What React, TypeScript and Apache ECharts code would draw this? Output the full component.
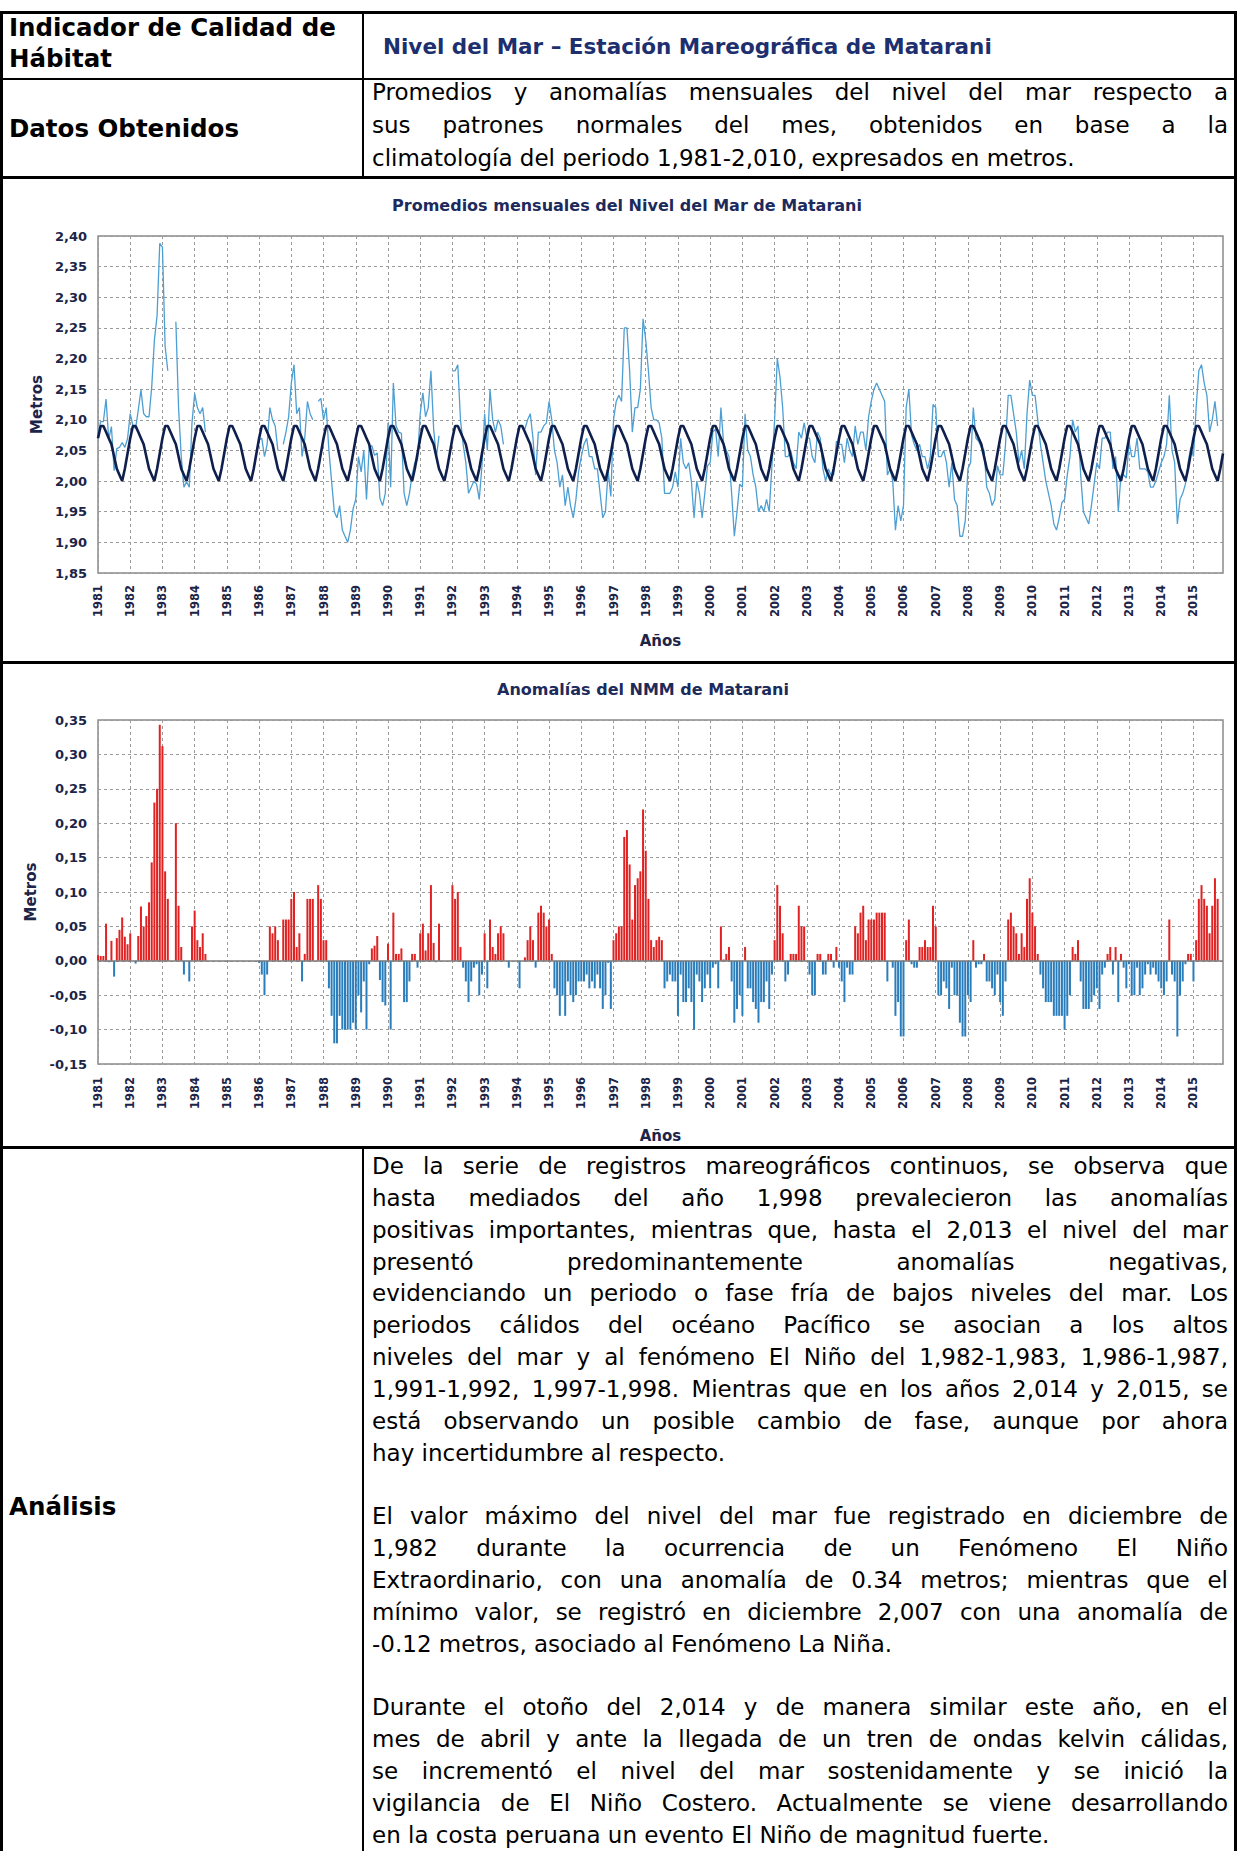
import React, { useEffect, useRef } from "react";
import * as echarts from "echarts";

// ---------------- DATA ----------------
const years = [
  1981, 1982, 1983, 1984, 1985, 1986, 1987, 1988, 1989, 1990, 1991, 1992,
  1993, 1994, 1995, 1996, 1997, 1998, 1999, 2000, 2001, 2002, 2003, 2004,
  2005, 2006, 2007, 2008, 2009, 2010, 2011, 2012, 2013, 2014, 2015,
];
const months = ["01", "02", "03", "04", "05", "06", "07", "08", "09", "10", "11", "12"];

// Patrón normal mensual (climatología 1981-2010), metros, Ene..Dic
const climatologia = [2.07, 2.09, 2.09, 2.08, 2.07, 2.06, 2.04, 2.02, 2.01, 2.0, 2.02, 2.045];

// Promedios mensuales del nivel del mar (m), Ene..Dic de cada año
const nivelMensual: (number | null)[] = [
  2.078, 2.097, 2.097, 2.134, 2.068, 2.089, 2.017, 2.053, 2.055, 2.063, 2.055, 2.069, // 1981
  2.11, 2.09, 2.086, 2.116, 2.149, 2.11, 2.105, 2.105, 2.153, 2.23, 2.27, 2.388, // 1982
  2.382, 2.22, 2.18, null, null, 2.26, 2.12, 2.04, 1.99, 1.999, 1.99, 2.095, // 1983
  2.143, 2.12, 2.11, 2.12, 2.08, null, null, null, null, null, null, null, // 1984
  null, null, null, null, null, null, null, null, null, null, null, null, // 1985
  2.067, 2.07, 2.04, 2.06, 2.12, 2.1, 2.09, 2.05, null, 2.06, 2.08, 2.105, // 1986
  2.16, 2.19, 2.11, 2.12, 2.04, 2.07, 2.13, 2.11, 2.1, null, 2.13, 2.135, // 1987
  2.1, 2.12, 2.05, 2.0, 1.95, 1.94, 1.96, 1.92, 1.91, 1.9, 1.92, 1.955, // 1988
  1.97, 2.04, 2.015, 2.05, 1.97, 2.055, 2.058, 2.042, 2.046, 1.972, 1.96, 1.98, // 1989
  2.095, 1.99, 2.16, 2.09, 2.08, 2.078, 1.98, 1.96, 1.98, 2.01, 2.03, 2.035, // 1990
  2.11, 2.144, 2.105, 2.12, 2.18, 2.086, 2.038, 2.074, null, null, null, null, // 1991
  2.18, 2.18, 2.19, 2.1, 2.06, 2.03, 1.98, 1.99, 2.0, 1.995, 1.97, 2.025, // 1992
  2.11, 2.05, 2.15, 2.1, 2.08, 2.1, 2.09, 2.06, null, 1.99, null, null, // 1993
  null, 2.05, null, 2.085, 2.1, 2.11, 2.07, 2.01, 2.08, 2.08, 2.09, 2.095, // 1994
  2.13, 2.1, 2.05, 2.03, 1.99, 2.01, 1.96, 1.99, 1.96, 1.94, 1.97, 2.015, // 1995
  2.04, 2.06, 2.07, 2.04, 2.04, 2.02, 2.02, 1.98, 1.94, 1.95, 2.017, 1.975, // 1996
  2.1, 2.13, 2.14, 2.13, 2.25, 2.25, 2.18, 2.08, 2.12, 2.12, 2.15, 2.265, // 1997
  2.23, 2.18, 2.12, 2.1, 2.1, 2.095, 2.07, 1.98, 1.98, 1.98, 1.99, 2.015, // 1998
  1.99, 2.07, 2.03, 2.02, 2.03, 2.0, 1.94, 2.0, 1.98, 1.94, 1.98, 2.025, // 1999
  2.03, 2.08, 2.085, 2.04, 2.12, 2.062, 2.05, 2.04, 1.98, 1.91, 1.95, 1.995, // 2000
  1.99, 2.11, 2.05, 2.04, 2.01, 1.99, 1.95, 1.96, 1.95, 1.97, 1.95, 2.025, // 2001
  2.1, 2.2, 2.17, 2.12, 2.04, 2.04, 2.05, 2.03, 2.02, 2.08, 2.07, 2.095, // 2002
  2.07, 2.07, 2.04, 2.03, 2.08, 2.07, 2.02, 2.0, 2.02, 2.01, 2.01, 2.065, // 2003
  2.06, 2.06, 2.03, 2.07, 2.05, 2.04, 2.09, 2.06, 2.08, 2.08, 2.05, 2.105, // 2004
  2.13, 2.15, 2.16, 2.15, 2.14, 2.13, 2.01, 2.02, 2.0, 1.92, 1.96, 1.935, // 2005
  1.96, 2.12, 2.15, 2.075, 2.06, 2.05, 2.06, 2.04, 2.04, 2.02, 2.04, 2.125, // 2006
  2.12, 2.04, 2.04, 2.05, 2.03, 1.99, 2.03, 1.97, 1.96, 1.91, 1.91, 1.935, // 2007
  2.02, 2.03, 2.12, 2.07, 2.065, 2.055, 2.05, 1.99, 1.98, 1.96, 1.97, 2.025, // 2008
  2.01, 2.01, 2.06, 2.14, 2.14, 2.11, 2.08, 2.03, 2.05, 2.02, 2.11, 2.165, // 2009
  2.14, 2.14, 2.1, 2.06, 2.03, 2.0, 1.98, 1.96, 1.93, 1.92, 1.94, 1.965, // 2010
  1.97, 2.01, 2.04, 2.1, 2.08, 2.09, 2.01, 1.95, 1.94, 1.93, 1.96, 1.995, // 2011
  2.03, 2.02, 2.07, 2.07, 2.08, 2.08, 2.02, 2.04, 1.95, 2.01, 2.01, 2.005, // 2012
  2.065, 2.04, 2.04, 2.07, 2.02, 2.02, 2.02, 2.015, 1.99, 1.99, 2.0, 2.015, // 2013
  2.03, 2.04, 2.06, 2.14, 2.05, 2.03, 1.93, 1.97, 1.98, 1.995, 2.03, 2.055, // 2014
  2.04, 2.12, 2.18, 2.19, 2.16, 2.14, 2.08, 2.1, 2.13, 2.09, null, null, // 2015
];

// Anomalías mensuales del NMM (m), Ene..Dic de cada año
const anomalias: (number | null)[] = [
  0.008, 0.007, 0.007, 0.054, -0.002, 0.029, -0.023, 0.033, 0.045, 0.063, 0.035, 0.024, // 1981
  0.04, 0.0, -0.004, 0.036, 0.079, 0.05, 0.065, 0.085, 0.143, 0.23, 0.25, 0.343, // 1982
  0.312, 0.13, 0.09, null, null, 0.2, 0.08, 0.02, -0.02, -0.001, -0.03, 0.05, // 1983
  0.073, 0.03, 0.02, 0.04, 0.01, null, null, null, null, null, null, null, // 1984
  null, null, null, null, null, null, null, null, null, null, null, null, // 1985
  -0.003, -0.02, -0.05, -0.02, 0.05, 0.04, 0.05, 0.03, null, 0.06, 0.06, 0.06, // 1986
  0.09, 0.1, 0.02, 0.04, -0.03, 0.01, 0.09, 0.09, 0.09, null, 0.11, 0.09, // 1987
  0.03, 0.03, -0.04, -0.08, -0.12, -0.12, -0.08, -0.1, -0.1, -0.1, -0.1, -0.09, // 1988
  -0.1, -0.05, -0.075, -0.03, -0.1, -0.005, 0.018, 0.022, 0.036, -0.028, -0.06, -0.065, // 1989
  0.025, -0.1, 0.07, 0.01, 0.01, 0.018, -0.06, -0.06, -0.03, 0.01, 0.01, -0.01, // 1990
  0.04, 0.054, 0.015, 0.04, 0.11, 0.026, -0.002, 0.054, null, null, null, null, // 1991
  0.11, 0.09, 0.1, 0.02, -0.01, -0.03, -0.06, -0.03, -0.01, -0.005, -0.05, -0.02, // 1992
  0.04, -0.04, 0.06, 0.02, 0.01, 0.04, 0.05, 0.04, null, -0.01, null, null, // 1993
  null, -0.04, null, 0.005, 0.03, 0.05, 0.03, -0.01, 0.07, 0.08, 0.07, 0.05, // 1994
  0.06, 0.01, -0.04, -0.05, -0.08, -0.05, -0.08, -0.03, -0.05, -0.06, -0.05, -0.03, // 1995
  -0.03, -0.03, -0.02, -0.04, -0.03, -0.04, -0.02, -0.04, -0.07, -0.05, -0.003, -0.07, // 1996
  0.03, 0.04, 0.05, 0.05, 0.18, 0.19, 0.14, 0.06, 0.11, 0.12, 0.13, 0.22, // 1997
  0.16, 0.09, 0.03, 0.02, 0.03, 0.035, 0.03, -0.04, -0.03, -0.02, -0.03, -0.03, // 1998
  -0.08, -0.02, -0.06, -0.06, -0.04, -0.06, -0.1, -0.02, -0.03, -0.06, -0.04, -0.02, // 1999
  -0.04, -0.01, -0.005, -0.04, 0.05, 0.002, 0.01, 0.02, -0.03, -0.09, -0.07, -0.05, // 2000
  -0.08, 0.02, -0.04, -0.04, -0.06, -0.07, -0.09, -0.06, -0.06, -0.03, -0.07, -0.02, // 2001
  0.03, 0.11, 0.08, 0.04, -0.03, -0.02, 0.01, 0.01, 0.01, 0.08, 0.05, 0.05, // 2002
  0.0, -0.02, -0.05, -0.05, 0.01, 0.01, -0.02, -0.02, 0.01, 0.01, -0.01, 0.02, // 2003
  -0.01, -0.03, -0.06, -0.01, -0.02, -0.02, 0.05, 0.04, 0.07, 0.08, 0.03, 0.06, // 2004
  0.06, 0.06, 0.07, 0.07, 0.07, 0.07, -0.03, 0.0, -0.01, -0.08, -0.06, -0.11, // 2005
  -0.11, 0.03, 0.06, -0.005, -0.01, -0.01, 0.02, 0.02, 0.03, 0.02, 0.02, 0.08, // 2006
  0.05, -0.05, -0.05, -0.03, -0.04, -0.07, -0.01, -0.05, -0.05, -0.09, -0.11, -0.11, // 2007
  -0.05, -0.06, 0.03, -0.01, -0.005, -0.005, 0.01, -0.03, -0.03, -0.04, -0.05, -0.02, // 2008
  -0.06, -0.08, -0.03, 0.06, 0.07, 0.05, 0.04, 0.01, 0.04, 0.02, 0.09, 0.12, // 2009
  0.07, 0.05, 0.01, -0.02, -0.04, -0.06, -0.06, -0.06, -0.08, -0.08, -0.08, -0.08, // 2010
  -0.1, -0.08, -0.05, 0.02, 0.01, 0.03, -0.03, -0.07, -0.07, -0.07, -0.06, -0.05, // 2011
  -0.04, -0.07, -0.02, -0.01, 0.01, 0.02, -0.02, 0.02, -0.06, 0.01, -0.01, -0.04, // 2012
  -0.005, -0.05, -0.05, -0.01, -0.05, -0.04, -0.02, -0.005, -0.02, -0.01, -0.02, -0.03, // 2013
  -0.04, -0.05, -0.03, 0.06, -0.02, -0.03, -0.11, -0.05, -0.03, -0.005, 0.01, 0.01, // 2014
  -0.03, 0.03, 0.09, 0.11, 0.09, 0.08, 0.04, 0.08, 0.12, 0.09, null, null, // 2015
];

const tituloNivel = "Promedios mensuales del Nivel del Mar de Matarani";
const tituloAnom = "Anomalías del NMM de Matarani";

const datosLines = [
  "Promedios y anomalías mensuales del nivel del mar respecto a",
  "sus patrones normales del mes, obtenidos en base a la",
  "climatología del periodo 1,981-2,010, expresados en metros.",
];

const analisisLines: [string, boolean][] = [
  ["De la serie de registros mareográficos continuos, se observa que", false],
  ["hasta mediados del año 1,998 prevalecieron las anomalías", false],
  ["positivas importantes, mientras que, hasta el 2,013 el nivel del mar", false],
  ["presentó predominantemente anomalías negativas,", false],
  ["evidenciando un periodo o fase fría de bajos niveles del mar. Los", false],
  ["periodos cálidos del océano Pacífico se asocian a los altos", false],
  ["niveles del mar y al fenómeno El Niño del 1,982-1,983, 1,986-1,987,", false],
  ["1,991-1,992, 1,997-1,998. Mientras que en los años 2,014 y 2,015, se", false],
  ["está observando un posible cambio de fase, aunque por ahora", false],
  ["hay incertidumbre al respecto.", true],
  ["", true],
  ["El valor máximo del nivel del mar fue registrado en diciembre de", false],
  ["1,982 durante la ocurrencia de un Fenómeno El Niño", false],
  ["Extraordinario, con una anomalía de 0.34 metros; mientras que el", false],
  ["mínimo valor, se registró en diciembre 2,007 con una anomalía de", false],
  ["-0.12 metros, asociado al Fenómeno La Niña.", true],
  ["", true],
  ["Durante el otoño del 2,014 y de manera similar este año, en el", false],
  ["mes de abril y ante la llegada de un tren de ondas kelvin cálidas,", false],
  ["se incrementó el nivel del mar sostenidamente y se inició la", false],
  ["vigilancia de El Niño Costero. Actualmente se viene desarrollando", false],
  ["en la costa peruana un evento El Niño de magnitud fuerte.", true],
];

// ---------------- CHART ----------------
const categories = years.flatMap((y) => months.map((m) => `${y}-${m}`));
const patronNormal = categories.map((_, i) => climatologia[i % 12]);

const FONT = '"DejaVu Sans", sans-serif';
const AXIS_TEXT = "#1c2447";
const TITLE_COLOR = "#1c2a5c";
const RED = "#e02222";
const BLUE = "#2a7dbb";
const gridLine = { color: "#9a9a9a", type: [3, 3] as any, width: 1 };
const fmt = (v: number) => v.toFixed(2).replace(".", ",");
const isYearStart = (i: number) => i % 12 === 0;

function makeXAxis(gridIndex: number, nameGap: number, margin: number) {
  return {
    type: "category",
    gridIndex,
    data: categories,
    boundaryGap: false,
    axisLine: { show: false },
    axisTick: { show: false },
    axisLabel: {
      interval: (i: number) => isYearStart(i),
      formatter: (v: string) => v.slice(0, 4),
      rotate: 90,
      margin,
      fontFamily: FONT,
      fontWeight: "bold",
      fontSize: 11.5,
      color: AXIS_TEXT,
    },
    splitLine: { show: true, interval: (i: number) => isYearStart(i), lineStyle: gridLine },
    name: "Años",
    nameLocation: "middle",
    nameGap,
    nameTextStyle: { fontFamily: FONT, fontWeight: "bold", fontSize: 15, color: AXIS_TEXT },
  };
}

function makeYAxis(gridIndex: number, min: number, max: number, nameGap: number) {
  return {
    type: "value",
    gridIndex,
    min,
    max,
    interval: 0.05,
    axisLine: { show: false },
    axisTick: { show: false },
    axisLabel: {
      formatter: fmt,
      margin: 11,
      fontFamily: FONT,
      fontWeight: "bold",
      fontSize: 13,
      color: AXIS_TEXT,
    },
    splitLine: { show: true, lineStyle: gridLine },
    name: "Metros",
    nameLocation: "middle",
    nameRotate: 90,
    nameGap,
    nameTextStyle: { fontFamily: FONT, fontWeight: "bold", fontSize: 15, color: AXIS_TEXT },
  };
}

function Charts() {
  const ref = useRef<HTMLDivElement>(null);
  useEffect(() => {
    if (!ref.current) return;
    const chart = echarts.init(ref.current, null, { renderer: "svg" });
    const option: any = {
      animation: false,
      textStyle: { fontFamily: FONT },
      grid: [
        { left: 98, right: 14, top: 58, height: 337, show: true, borderColor: "#8a8a8a", borderWidth: 1.5 },
        { left: 98, right: 14, top: 542, height: 344, show: true, borderColor: "#8a8a8a", borderWidth: 1.5 },
      ],
      xAxis: [makeXAxis(0, 60, 12), makeXAxis(1, 64, 13)],
      yAxis: [makeYAxis(0, 1.85, 2.4, 43), makeYAxis(1, -0.15, 0.35, 49)],
      graphic: [
        {
          type: "text",
          x: 627,
          y: 27,
          style: {
            text: tituloNivel,
            font: `bold 16px ${FONT}`,
            fill: TITLE_COLOR,
            textAlign: "center",
            textVerticalAlign: "middle",
            align: "center",
            verticalAlign: "middle",
          },
        },
        {
          type: "text",
          x: 643,
          y: 511,
          style: {
            text: tituloAnom,
            font: `bold 16px ${FONT}`,
            fill: TITLE_COLOR,
            textAlign: "center",
            textVerticalAlign: "middle",
            align: "center",
            verticalAlign: "middle",
          },
        },
      ],
      series: [
        {
          name: "Promedio mensual",
          type: "line",
          xAxisIndex: 0,
          yAxisIndex: 0,
          data: nivelMensual,
          showSymbol: false,
          connectNulls: false,
          lineStyle: { color: "#4d9fd3", width: 1.3 },
          itemStyle: { color: "#4d9fd3" },
          z: 2,
        },
        {
          name: "Patrón normal",
          type: "line",
          xAxisIndex: 0,
          yAxisIndex: 0,
          data: patronNormal,
          showSymbol: false,
          lineStyle: { color: "#0f1f4d", width: 2.6 },
          itemStyle: { color: "#0f1f4d" },
          z: 3,
        },
        {
          name: "Anomalía",
          type: "bar",
          xAxisIndex: 1,
          yAxisIndex: 1,
          barWidth: 2,
          data: anomalias.map((v) =>
            v == null ? null : { value: v, itemStyle: { color: v >= 0 ? RED : BLUE } }
          ),
          markLine: {
            silent: true,
            symbol: "none",
            label: { show: false },
            lineStyle: { color: "#7d7d7d", type: "solid", width: 1.5 },
            data: [{ yAxis: 0 }],
          },
        },
      ],
    };
    chart.setOption(option);
    return () => chart.dispose();
  }, []);
  return (
    <div
      ref={ref}
      style={{ position: "absolute", left: 0, top: 178, width: 1237, height: 970 }}
    />
  );
}

// ---------------- PAGE ----------------
const borders = [
  { l: 0, t: 11, w: 1237, h: 3 },
  { l: 0, t: 78, w: 1237, h: 2 },
  { l: 0, t: 176, w: 1237, h: 3 },
  { l: 0, t: 661, w: 1237, h: 3 },
  { l: 0, t: 1146, w: 1237, h: 3 },
  { l: 0, t: 11, w: 3, h: 1840 },
  { l: 1234, t: 11, w: 3, h: 1840 },
  { l: 362, t: 11, w: 2, h: 167 },
  { l: 362, t: 1146, w: 2, h: 705 },
];

function JLine({ text, last, lh }: { text: string; last: boolean; lh: number }) {
  return (
    <div
      style={{
        height: lh,
        lineHeight: `${lh}px`,
        textAlign: last ? "left" : "justify",
        textAlignLast: last ? "left" : "justify",
      } as any}
    >
      {text || "\u00a0"}
    </div>
  );
}

export default function App() {
  const labelStyle: React.CSSProperties = {
    position: "absolute",
    left: 9,
    fontSize: 24.5,
    fontWeight: "bold",
    color: "#000",
  };
  return (
    <div
      style={{
        position: "relative",
        width: 1237,
        height: 1851,
        overflow: "hidden",
        background: "#fff",
        fontFamily: FONT,
        color: "#000",
      }}
    >
      <style>{"body{margin:0;background:#fff}"}</style>

      <Charts />

      {/* Row 1 */}
      <div style={{ ...labelStyle, top: 12, lineHeight: "31px" }}>
        <div>Indicador de Calidad de</div>
        <div>Hábitat</div>
      </div>
      <div
        style={{
          position: "absolute",
          left: 383,
          top: 14,
          height: 64,
          display: "flex",
          alignItems: "center",
          fontSize: 21.5,
          fontWeight: "bold",
          color: "#1d2f6f",
          whiteSpace: "nowrap",
        }}
      >
        Nivel del Mar – Estación Mareográfica de Matarani
      </div>

      {/* Row 2 */}
      <div
        style={{
          ...labelStyle,
          top: 80,
          height: 97,
          display: "flex",
          alignItems: "center",
        }}
      >
        Datos Obtenidos
      </div>
      <div style={{ position: "absolute", left: 372, top: 76, width: 856, fontSize: 23 }}>
        {datosLines.map((t, i) => (
          <JLine key={i} text={t} last={i === datosLines.length - 1} lh={33} />
        ))}
      </div>

      {/* Analysis row */}
      <div style={{ ...labelStyle, top: 1491, lineHeight: "32px" }}>Análisis</div>
      <div style={{ position: "absolute", left: 372, top: 1151, width: 856, fontSize: 23 }}>
        {analisisLines.map(([t, last], i) => (
          <JLine key={i} text={t} last={last} lh={31.85} />
        ))}
      </div>

      {borders.map((b, i) => (
        <div
          key={i}
          style={{
            position: "absolute",
            left: b.l,
            top: b.t,
            width: b.w,
            height: b.h,
            background: "#000",
            zIndex: 5,
          }}
        />
      ))}
    </div>
  );
}
